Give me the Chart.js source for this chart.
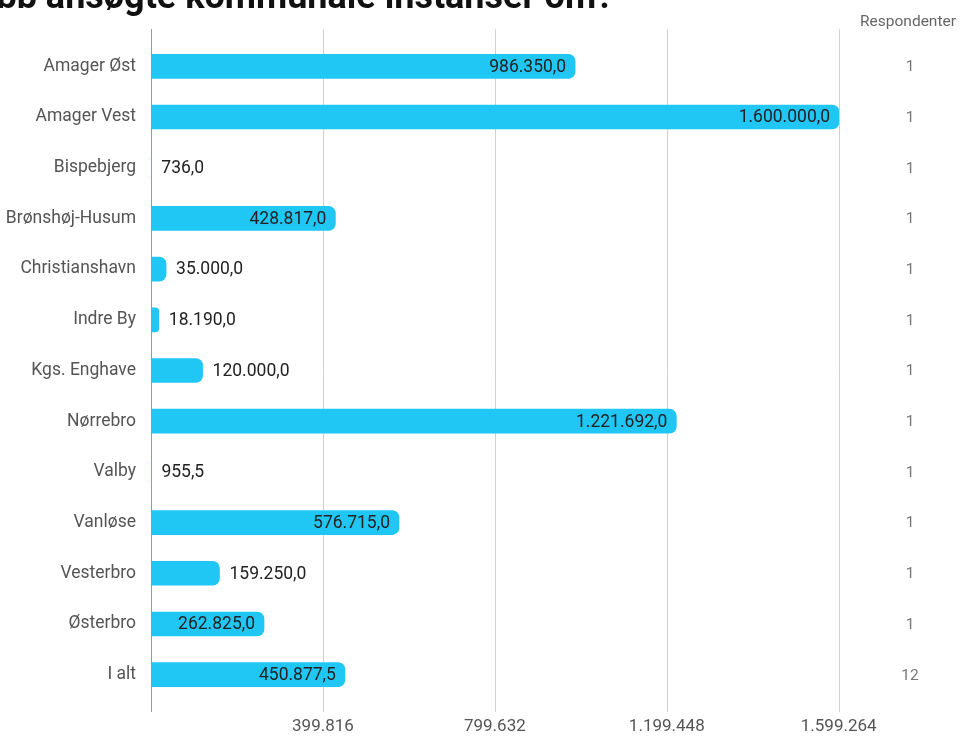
<!DOCTYPE html>
<html lang="da">
<head>
  <meta charset="UTF-8">
  <title>Ansøgte kommunale instanser</title>
  <script src="https://cdn.jsdelivr.net/npm/chart.js"></script>
  <style>
    body {
      margin: 0;
      background: #fff;
      font-family: Roboto, Arial, sans-serif;
    }
    .wrap {
      position: relative;
      width: 965px;
      height: 736px;
      overflow: hidden;
    }
    .title {
      position: absolute;
      left: 0;
      top: 0;
      width: 614px;
      height: 30px;
      overflow: hidden;
    }
    .title span {
      position: absolute;
      right: 0;
      top: -24px;
      white-space: nowrap;
      font-size: 36px;
      line-height: 40px;
      font-weight: bold;
      color: #111;
    }
    canvas {
      position: absolute;
      left: 0;
      top: 0;
    }
  </style>
</head>
<body>
  <div class="wrap">
    <canvas id="chart" width="965" height="736"></canvas>
    <div class="title"><span>Hvor meget har klubb ansøgte kommunale instanser om?</span></div>
  </div>

  <script>
    const categories = ['Amager Øst', 'Amager Vest', 'Bispebjerg', 'Brønshøj-Husum', 'Christianshavn',
      'Indre By', 'Kgs. Enghave', 'Nørrebro', 'Valby', 'Vanløse', 'Vesterbro', 'Østerbro', 'I alt'];
    const amounts = [986350, 1600000, 736, 428817, 35000, 18190, 120000, 1221692, 955.5, 576715, 159250, 262825, 450877.5];
    const respondents = [1, 1, 1, 1, 1, 1, 1, 1, 1, 1, 1, 1, 12];
    const tickValues = [399816, 799632, 1199448, 1599264];

    function groupDigits(n) {
      return String(n).replace(/\B(?=(\d{3})+(?!\d))/g, '.');
    }

    function fmtValue(v) {
      const whole = Math.floor(v);
      const dec = Math.round((v - whole) * 10);
      return groupDigits(whole) + ',' + dec;
    }

    // value labels, respondent column, grid lines
    const extras = {
      id: 'extras',
      beforeDatasetsDraw(chart) {
        const ctx = chart.ctx;
        const area = chart.chartArea;
        const x = chart.scales.x;
        ctx.save();
        ctx.lineWidth = 1;
        ctx.strokeStyle = '#d0d0d0';
        tickValues.forEach(v => {
          const px = Math.round(x.getPixelForValue(v)) + 0.5;
          ctx.beginPath();
          ctx.moveTo(px, area.top - 12);
          ctx.lineTo(px, area.bottom + 12);
          ctx.stroke();
        });
        ctx.strokeStyle = '#999';
        const x0 = Math.round(x.getPixelForValue(0)) + 0.5;
        ctx.beginPath();
        ctx.moveTo(x0, area.top - 12);
        ctx.lineTo(x0, area.bottom + 12);
        ctx.stroke();
        ctx.restore();
      },
      afterDatasetsDraw(chart) {
        const ctx = chart.ctx;
        const meta = chart.getDatasetMeta(0);
        const y = chart.scales.y;
        ctx.save();
        ctx.font = '17.5px Roboto';
        ctx.textBaseline = 'middle';
        ctx.fillStyle = '#222';
        meta.data.forEach((bar, i) => {
          const label = fmtValue(amounts[i]);
          const w = ctx.measureText(label).width;
          const barW = bar.x - bar.base;
          if (barW > w + 18) {
            ctx.textAlign = 'right';
            ctx.fillText(label, bar.x - 9, bar.y + 1);
          } else {
            ctx.textAlign = 'left';
            ctx.fillText(label, bar.x + 10, bar.y + 1);
          }
        });
        ctx.font = '15.5px Roboto';
        ctx.textAlign = 'center';
        ctx.fillStyle = '#777';
        respondents.forEach((r, i) => {
          ctx.fillText(String(r), 910, y.getPixelForValue(i) + 1);
        });
        ctx.fillStyle = '#666';
        ctx.fillText('Respondenter', 908, 22);
        ctx.restore();
      }
    };

    new Chart(document.getElementById('chart'), {
      type: 'bar',
      data: {
        labels: categories,
        datasets: [{
          data: amounts,
          backgroundColor: '#20c6f4',
          borderRadius: 7,
          borderSkipped: 'start',
          barThickness: 24
        }]
      },
      options: {
        indexAxis: 'y',
        responsive: false,
        animation: false,
        layout: { padding: { top: 41, right: 126, left: 0, bottom: 0 } },
        plugins: {
          legend: { display: false },
          tooltip: { enabled: false }
        },
        scales: {
          x: {
            min: 0,
            max: 1600000,
            afterBuildTicks: axis => { axis.ticks = tickValues.map(v => ({ value: v })); },
            grid: { display: false, drawTicks: false },
            border: { display: false },
            ticks: {
              padding: 17,
              color: '#555',
              font: { family: 'Roboto', size: 17 },
              maxRotation: 0,
              callback: v => groupDigits(v)
            },
            afterFit: axis => { axis.height = 36; }
          },
          y: {
            grid: { display: false, drawTicks: false },
            border: { display: false },
            ticks: {
              padding: 15,
              color: '#555',
              font: { family: 'Roboto', size: 17.5 }
            },
            afterFit: axis => { axis.width = 151; }
          }
        }
      },
      plugins: [extras]
    });
  </script>
</body>
</html>
